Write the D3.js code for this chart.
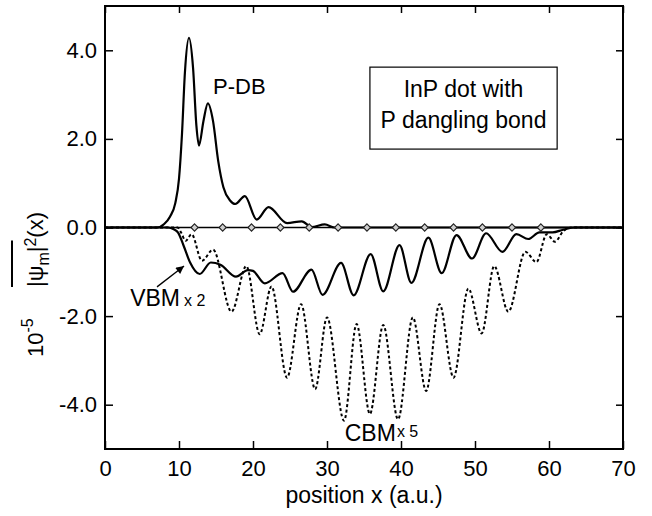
<!DOCTYPE html>
<html>
<head>
<meta charset="utf-8">
<script src="https://cdn.jsdelivr.net/npm/d3@7"></script>
<style>
  body { margin: 0; background: #fff; }
  svg { display: block; font-family: "Liberation Sans", Arial, Helvetica, sans-serif; }
</style>
</head>
<body>
<svg id="chart" width="652" height="516"></svg>
<script>
// --- data (x in a.u., y in 1e-5) ---
const pdbCurve = [
  [0, 0], [7.0, 0], [8.0, 0.08], [8.8, 0.25], [9.5, 0.55], [10.0, 1.1], [10.4, 2.1],
  [10.8, 3.5], [11.35, 4.28], [11.9, 3.6], [12.35, 2.3], [12.7, 1.85], [13.3, 2.4],
  [13.9, 2.8], [14.6, 2.4], [15.3, 1.5], [16.0, 0.91], [16.9, 0.61], [17.6, 0.53],
  [18.9, 0.71], [20.5, 0.18], [22.1, 0.46], [24.6, 0.1], [26.6, 0.14], [27.9, 0.01],
  [29.7, 0.07], [31.0, 0], [70, 0]
];

const vbmCurve = [
  [0, 0], [8.5, 0], [9.3, -0.04], [9.9, -0.12], [10.6, -0.4], [11.5, -0.79], [12.8, -1.05],
  [14.3, -0.79], [15.6, -0.84], [17.7, -1.11], [19.3, -0.96], [20.0, -0.98], [21.6, -1.26],
  [24.0, -1.03], [25.4, -1.45], [27.9, -0.95], [29.4, -1.52], [31.9, -0.8], [33.6, -1.53],
  [35.9, -0.6], [37.6, -1.44], [39.8, -0.4], [41.4, -1.25], [43.7, -0.23], [45.5, -1.03],
  [47.5, -0.17], [49.6, -0.7], [51.5, -0.13], [53.7, -0.55], [55.6, -0.15], [57.2, -0.26],
  [58.7, -0.11], [60.5, -0.11], [61.9, -0.05], [63.5, 0], [70, 0]
];

const cbmCurve = [
  [0, 0], [9.8, 0], [10.3, -0.12], [10.9, -0.3], [11.7, -0.15], [13.1, -0.75], [14.6, -0.5],
  [17.1, -1.9], [19.1, -0.87], [20.9, -2.41], [22.5, -1.33], [24.6, -3.39], [26.5, -1.73],
  [28.4, -3.65], [30.0, -2.03], [32.3, -4.36], [34.0, -2.18], [35.8, -4.21], [37.6, -2.2],
  [39.6, -4.33], [41.6, -2.03], [43.4, -3.69], [45.2, -1.73], [47.1, -3.39], [49.1, -1.38],
  [50.9, -2.39], [52.6, -0.87], [54.5, -1.9], [56.8, -0.55], [58.3, -0.78], [59.7, -0.15],
  [60.8, -0.32], [61.9, -0.09], [63.0, 0], [70, 0]
];

// atom sites marked on the zero line
const sitePositions = [12.1, 15.9, 19.8, 23.7, 27.6, 31.5, 35.4, 39.3, 43.2, 47.1, 51.0, 55.0, 58.9];

const xTicks = [0, 10, 20, 30, 40, 50, 60, 70];
const yTicks = [-4, -2, 0, 2, 4];

const margin = { left: 105, right: 29, top: 6, bottom: 67 };
const W = 652, H = 516;
const svg = d3.select("#chart");

const x = d3.scaleLinear().domain([0, 70]).range([margin.left, W - margin.right]);
const y = d3.scaleLinear().domain([-5, 5]).range([H - margin.bottom, margin.top]);

// axes (ticks point inward)
svg.append("g")
    .attr("transform", `translate(0,${y(-5)})`)
    .call(d3.axisBottom(x).tickValues(xTicks).tickSizeInner(-8).tickSizeOuter(0).tickPadding(11))
    .call(g => g.selectAll("text").attr("font-size", 22).attr("fill", "#000"));

svg.append("g")
    .attr("transform", `translate(${x(0)},0)`)
    .call(d3.axisLeft(y).tickValues(yTicks).tickSizeInner(-8).tickSizeOuter(0).tickPadding(8)
        .tickFormat(d => d.toFixed(1)))
    .call(g => g.selectAll("text").attr("font-size", 22).attr("fill", "#000"));

svg.append("g")
    .attr("transform", `translate(0,${y(5)})`)
    .call(d3.axisTop(x).tickValues(xTicks).tickSizeInner(-7).tickSizeOuter(0).tickFormat(""));

svg.append("g")
    .attr("transform", `translate(${x(70)},0)`)
    .call(d3.axisRight(y).tickValues(yTicks).tickSizeInner(-7).tickSizeOuter(0).tickFormat(""));

svg.selectAll(".domain").remove();
svg.selectAll(".tick line").attr("stroke", "#000").attr("stroke-width", 1.5);

svg.append("rect")
    .attr("x", x(0)).attr("y", y(5))
    .attr("width", x(70) - x(0)).attr("height", y(-5) - y(5))
    .attr("fill", "none").attr("stroke", "#000").attr("stroke-width", 2);

// curves
const line = d3.line().x(d => x(d[0])).y(d => y(d[1])).curve(d3.curveMonotoneX);

svg.append("path").datum(cbmCurve)
    .attr("d", line).attr("fill", "none")
    .attr("stroke", "#000").attr("stroke-width", 2).attr("stroke-dasharray", "3,2.5");

svg.append("path").datum(vbmCurve)
    .attr("d", line).attr("fill", "none")
    .attr("stroke", "#000").attr("stroke-width", 2.2);

svg.append("path").datum(pdbCurve)
    .attr("d", line).attr("fill", "none")
    .attr("stroke", "#000").attr("stroke-width", 2.2);

// zero line with site markers
svg.append("line")
    .attr("x1", x(0)).attr("x2", x(70))
    .attr("y1", y(0)).attr("y2", y(0))
    .attr("stroke", "#000").attr("stroke-width", 1.6);

svg.selectAll(".site")
    .data(sitePositions)
    .join("path")
    .attr("class", "site")
    .attr("d", "M0,-3.6L3.6,0L0,3.6L-3.6,0Z")
    .attr("transform", d => `translate(${x(d)},${y(0)})`)
    .attr("fill", "#cfcfcf").attr("stroke", "#222").attr("stroke-width", 1.1);

// annotations
svg.append("text")
    .attr("x", x(14.6)).attr("y", y(3.02))
    .attr("font-size", 22).text("P-DB");

svg.append("rect")
    .attr("x", x(35.8)).attr("y", y(3.62))
    .attr("width", x(61.1) - x(35.8)).attr("height", y(1.77) - y(3.62))
    .attr("fill", "#fff").attr("stroke", "#000").attr("stroke-width", 1.2);

const boxLines = ["InP dot with", "P dangling bond"];
svg.selectAll(".box-text")
    .data(boxLines)
    .join("text")
    .attr("class", "box-text")
    .attr("x", x(48.45))
    .attr("y", (d, i) => y(i === 0 ? 2.95 : 2.25))
    .attr("text-anchor", "middle")
    .attr("font-size", 23)
    .text(d => d);

const vbmLabel = svg.append("text")
    .attr("x", x(3.4)).attr("y", y(-1.77))
    .attr("font-size", 23);
vbmLabel.append("tspan").text("VBM");
vbmLabel.append("tspan").attr("dx", 4).attr("font-size", 16).text("x 2");

const cbmLabel = svg.append("text")
    .attr("x", x(32.4)).attr("y", y(-4.82))
    .attr("font-size", 23);
cbmLabel.append("tspan").text("CBM");
cbmLabel.append("tspan").attr("dx", 1).attr("dy", -4).attr("font-size", 16).text("x 5");

svg.append("defs").append("marker")
    .attr("id", "arrow")
    .attr("viewBox", "0 0 10 10")
    .attr("refX", 10).attr("refY", 5)
    .attr("markerWidth", 10).attr("markerHeight", 8)
    .attr("markerUnits", "userSpaceOnUse")
    .attr("orient", "auto")
    .append("path").attr("d", "M0,0L10,5L0,10Z").attr("fill", "#000");

svg.append("line")
    .attr("x1", x(7.03)).attr("y1", y(-1.34))
    .attr("x2", x(10.68)).attr("y2", y(-0.87))
    .attr("stroke", "#000").attr("stroke-width", 1.3)
    .attr("marker-end", "url(#arrow)");

// axis titles
svg.append("text")
    .attr("x", (x(0) + x(70)) / 2).attr("y", 503)
    .attr("text-anchor", "middle").attr("font-size", 23)
    .text("position x (a.u.)");

const yTitle = svg.append("g").attr("transform", "translate(43,0) rotate(-90)");

const unitText = yTitle.append("text").attr("x", -357).attr("y", 0).attr("font-size", 22);
unitText.append("tspan").text("10");
unitText.append("tspan").attr("dy", -10).attr("font-size", 16).text("-5");

const psiText = yTitle.append("text").attr("x", -287).attr("y", 0).attr("font-size", 22);
psiText.append("tspan").text("|ψ");
psiText.append("tspan").attr("dy", 6).attr("font-size", 16).text("m");
psiText.append("tspan").attr("dy", -6).text("|");
psiText.append("tspan").attr("dy", -7).attr("font-size", 16).text("2");
psiText.append("tspan").attr("dy", 7).text("(x)");

// overline spanning |psi_m|
const node = psiText.node();
const x0 = node.getStartPositionOfChar(0).x;
const x1 = node.getEndPositionOfChar(3).x + 6;
yTitle.append("line")
    .attr("x1", x0).attr("x2", x1)
    .attr("y1", -31).attr("y2", -31)
    .attr("stroke", "#000").attr("stroke-width", 2);
</script>
</body>
</html>
